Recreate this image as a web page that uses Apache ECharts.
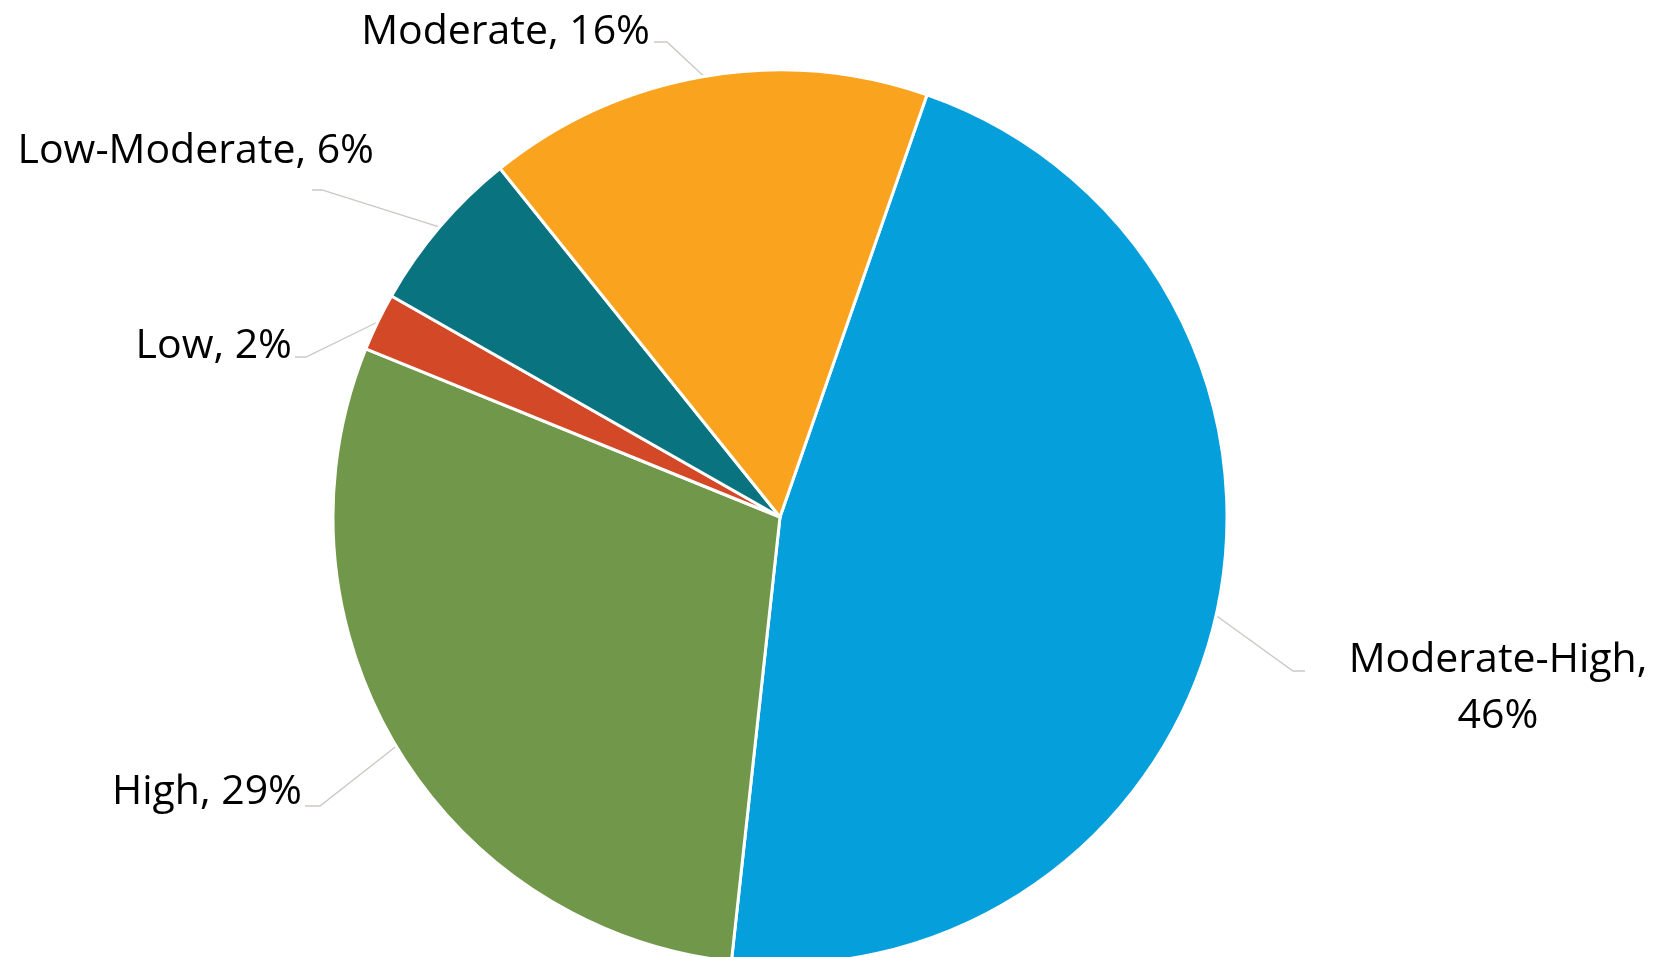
<!DOCTYPE html>
<html>
<head>
<meta charset="utf-8">
<script src="https://cdn.jsdelivr.net/npm/echarts@6/dist/echarts.min.js"></script>
<style>
  html, body { margin: 0; padding: 0; background: #ffffff; }
  #chart { width: 1660px; height: 957px; }
</style>
</head>
<body>
<div id="chart"></div>
<script>
// ---- data ----
const categories = ['Moderate-High', 'High', 'Low', 'Low-Moderate', 'Moderate'];
const shares = [46.4, 29.4, 2.1, 6.0, 16.1];

// ---- styles / layout ----
const sliceColors = ['#059FDB', '#71974A', '#D34826', '#0A7380', '#F9A31F'];
const labelSpots = {
  'Moderate-High': { x: 1498, y: 688, align: 'center', bend: [1293, 671], end: [1305, 671] },
  'High':          { x: 302,  y: 792, align: 'right',  bend: [320, 806],  end: [305, 806] },
  'Low':           { x: 292,  y: 346, align: 'right',  bend: [306, 357],  end: [295, 357] },
  'Low-Moderate':  { x: 374,  y: 151, align: 'right',  bend: [322, 190],  end: [312, 190] },
  'Moderate':      { x: 650,  y: 32,  align: 'right',  bend: [667, 42],   end: [654, 42] }
};

const chart = echarts.init(document.getElementById('chart'), null, { renderer: 'canvas' });

chart.setOption({
  backgroundColor: '#ffffff',
  animation: false,
  series: [{
    type: 'pie',
    center: [780, 517],
    radius: 447,
    startAngle: 70.8,
    clockwise: true,
    avoidLabelOverlap: false,
    itemStyle: { borderColor: '#ffffff', borderWidth: 3 },
    label: {
      show: true,
      position: 'outside',
      color: '#000000',
      fontFamily: 'Open Sans',
      fontSize: 41,
      lineHeight: 56,
      formatter: function (p) {
        const pct = Math.round(p.value) + '%';
        return p.name === 'Moderate-High' ? p.name + ',\n' + pct : p.name + ', ' + pct;
      }
    },
    labelLine: {
      show: true,
      length: 20,
      length2: 10,
      smooth: false,
      lineStyle: { color: '#CBC7C3', width: 1.3 }
    },
    labelLayout: function (params) {
      const name = categories[params.dataIndex];
      const s = labelSpots[name];
      const start = params.labelLinePoints ? params.labelLinePoints[0] : s.bend;
      return {
        x: s.x,
        y: s.y,
        align: s.align,
        verticalAlign: 'middle',
        labelLinePoints: [start, s.bend, s.end]
      };
    },
    emphasis: { disabled: true },
    data: categories.map((c, i) => ({
      name: c,
      value: shares[i],
      itemStyle: { color: sliceColors[i] }
    }))
  }]
});
</script>
</body>
</html>
